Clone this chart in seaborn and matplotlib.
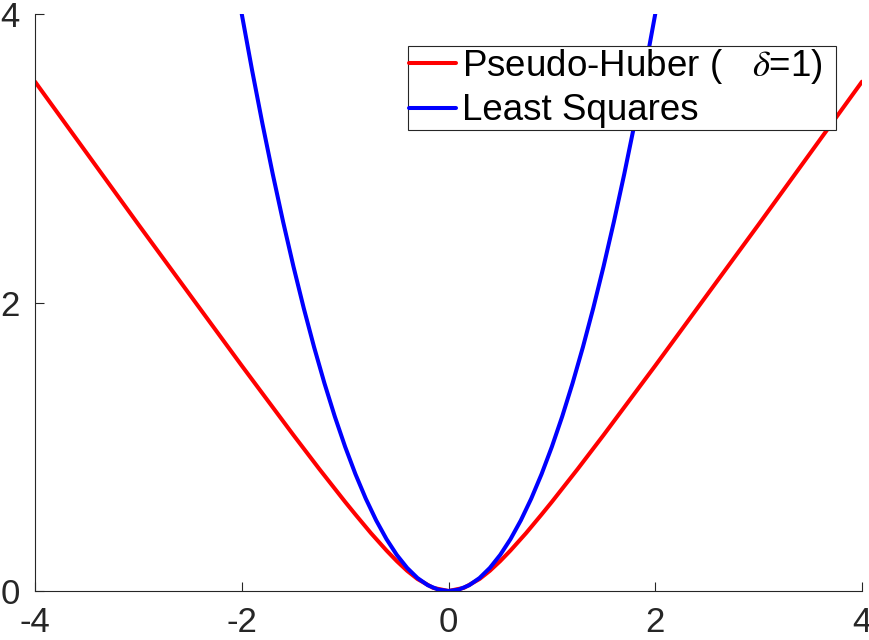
import matplotlib
matplotlib.use('Agg')
import matplotlib.pyplot as plt
import seaborn as sns

# values
huber_x = [-4, -3, -2, -1.5, -1.25, -1, -0.9, -0.75, -0.6, -0.5, -0.4, -0.3, -0.15, 0,
           0.15, 0.3, 0.4, 0.5, 0.6, 0.75, 0.9, 1, 1.25, 1.5, 2, 3, 4]
huber_y = [3.531, 2.541, 1.562, 1.081, 0.846, 0.618, 0.530, 0.401, 0.281, 0.207, 0.140, 0.083, 0.022, 0,
           0.022, 0.083, 0.140, 0.207, 0.281, 0.401, 0.530, 0.618, 0.846, 1.081, 1.562, 2.541, 3.531]

ls_x = [-2.0, -1.9, -1.8, -1.7, -1.6, -1.5, -1.4, -1.3, -1.2, -1.1, -1.0, -0.9, -0.8, -0.7,
        -0.6, -0.5, -0.4, -0.3, -0.2, -0.1, 0.0, 0.1, 0.2, 0.3, 0.4, 0.5, 0.6, 0.7, 0.8,
        0.9, 1.0, 1.1, 1.2, 1.3, 1.4, 1.5, 1.6, 1.7, 1.8, 1.9, 2.0]
ls_y = [4.00, 3.61, 3.24, 2.89, 2.56, 2.25, 1.96, 1.69, 1.44, 1.21, 1.00, 0.81, 0.64, 0.49,
        0.36, 0.25, 0.16, 0.09, 0.04, 0.01, 0.00, 0.01, 0.04, 0.09, 0.16, 0.25, 0.36, 0.49, 0.64,
        0.81, 1.00, 1.21, 1.44, 1.69, 1.96, 2.25, 2.56, 2.89, 3.24, 3.61, 4.00]

x_ticks = [-4, -2, 0, 2, 4]
y_ticks = [0, 2, 4]

sns.set_style('ticks')
plt.rcParams['font.family'] = ['Liberation Sans', 'DejaVu Sans']
plt.rcParams['mathtext.fontset'] = 'stix'
plt.rcParams['axes.unicode_minus'] = False

fig = plt.figure(figsize=(8.69, 6.4), dpi=100)
ax = fig.add_axes([35 / 869, 49 / 640, 827 / 869, 577 / 640])

# trailing space gives the right padding seen in the reference legend
sns.lineplot(x=huber_x, y=huber_y, color=(1, 0, 0), linewidth=2.9,
             label='Pseudo-Huber (   $\\delta$=1)  ', ax=ax)
sns.lineplot(x=ls_x, y=ls_y, color=(0, 0, 1), linewidth=2.9,
             label='Least Squares', ax=ax)

ax.set_xlim(-4, 4)
ax.set_ylim(0, 4)
ax.set_xticks(x_ticks)
ax.set_yticks(y_ticks)
ax.tick_params(direction='in', length=6.5, width=0.8, labelsize=25,
               colors='#262626', pad=11)
for side in ['top', 'right']:
    ax.spines[side].set_visible(False)
for side in ['left', 'bottom']:
    ax.spines[side].set_color('#262626')
    ax.spines[side].set_linewidth(0.8)

leg = ax.legend(loc='upper right', bbox_to_anchor=(0.9686, 0.9445), borderaxespad=0,
                fontsize=26.5, handlelength=1.28, handletextpad=0.16, labelspacing=0.2,
                borderpad=0.03, fancybox=False, framealpha=1)
leg.get_frame().set_edgecolor('#262626')
leg.get_frame().set_linewidth(0.8)
for t in leg.get_texts():
    t.set_color('black')

fig.savefig('out.png', dpi=100)
